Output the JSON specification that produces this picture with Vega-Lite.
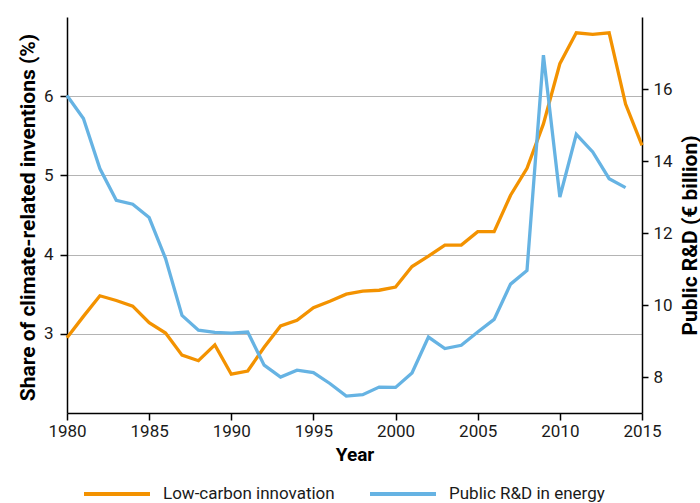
{
  "$schema": "https://vega.github.io/schema/vega-lite/v6.json",
  "width": 575,
  "height": 396,
  "autosize": {"type": "none"},
  "padding": {"left": 67, "top": 17, "right": 58, "bottom": 90},
  "config": {
    "view": {"stroke": null},
    "font": "Roboto",
    "axis": {
      "domainColor": "#000000",
      "domainWidth": 1.5,
      "tickColor": "#000000",
      "tickWidth": 1.5,
      "labelColor": "#1a1a1a",
      "labelFontSize": 17,
      "labelFont": "Roboto",
      "titleFont": "Roboto",
      "titleFontSize": 21,
      "titleFontWeight": "bold",
      "titleColor": "#000000",
      "gridColor": "#b4b4b4",
      "gridWidth": 1,
      "labelFlush": false,
      "labelOverlap": false
    },
    "legend": {"labelFont": "Roboto"}
  },
  "data": {
    "values": [
      {"year": 1980, "series": "Low-carbon innovation", "value": 2.95},
      {"year": 1981, "series": "Low-carbon innovation", "value": 3.22},
      {"year": 1982, "series": "Low-carbon innovation", "value": 3.48},
      {"year": 1983, "series": "Low-carbon innovation", "value": 3.42},
      {"year": 1984, "series": "Low-carbon innovation", "value": 3.35},
      {"year": 1985, "series": "Low-carbon innovation", "value": 3.14},
      {"year": 1986, "series": "Low-carbon innovation", "value": 3.01},
      {"year": 1987, "series": "Low-carbon innovation", "value": 2.73},
      {"year": 1988, "series": "Low-carbon innovation", "value": 2.66},
      {"year": 1989, "series": "Low-carbon innovation", "value": 2.86},
      {"year": 1990, "series": "Low-carbon innovation", "value": 2.49},
      {"year": 1991, "series": "Low-carbon innovation", "value": 2.53},
      {"year": 1992, "series": "Low-carbon innovation", "value": 2.83},
      {"year": 1993, "series": "Low-carbon innovation", "value": 3.10},
      {"year": 1994, "series": "Low-carbon innovation", "value": 3.17},
      {"year": 1995, "series": "Low-carbon innovation", "value": 3.33},
      {"year": 1996, "series": "Low-carbon innovation", "value": 3.41},
      {"year": 1997, "series": "Low-carbon innovation", "value": 3.50},
      {"year": 1998, "series": "Low-carbon innovation", "value": 3.54},
      {"year": 1999, "series": "Low-carbon innovation", "value": 3.55},
      {"year": 2000, "series": "Low-carbon innovation", "value": 3.59},
      {"year": 2001, "series": "Low-carbon innovation", "value": 3.85},
      {"year": 2002, "series": "Low-carbon innovation", "value": 3.98},
      {"year": 2003, "series": "Low-carbon innovation", "value": 4.12},
      {"year": 2004, "series": "Low-carbon innovation", "value": 4.12},
      {"year": 2005, "series": "Low-carbon innovation", "value": 4.29},
      {"year": 2006, "series": "Low-carbon innovation", "value": 4.29},
      {"year": 2007, "series": "Low-carbon innovation", "value": 4.75},
      {"year": 2008, "series": "Low-carbon innovation", "value": 5.09},
      {"year": 2009, "series": "Low-carbon innovation", "value": 5.65},
      {"year": 2010, "series": "Low-carbon innovation", "value": 6.41},
      {"year": 2011, "series": "Low-carbon innovation", "value": 6.80},
      {"year": 2012, "series": "Low-carbon innovation", "value": 6.78},
      {"year": 2013, "series": "Low-carbon innovation", "value": 6.80},
      {"year": 2014, "series": "Low-carbon innovation", "value": 5.90},
      {"year": 2015, "series": "Low-carbon innovation", "value": 5.38},
      {"year": 1980, "series": "Public R&D in energy", "value": 15.82},
      {"year": 1981, "series": "Public R&D in energy", "value": 15.18},
      {"year": 1982, "series": "Public R&D in energy", "value": 13.79},
      {"year": 1983, "series": "Public R&D in energy", "value": 12.91},
      {"year": 1984, "series": "Public R&D in energy", "value": 12.80},
      {"year": 1985, "series": "Public R&D in energy", "value": 12.43},
      {"year": 1986, "series": "Public R&D in energy", "value": 11.29},
      {"year": 1987, "series": "Public R&D in energy", "value": 9.71},
      {"year": 1988, "series": "Public R&D in energy", "value": 9.30},
      {"year": 1989, "series": "Public R&D in energy", "value": 9.24},
      {"year": 1990, "series": "Public R&D in energy", "value": 9.22},
      {"year": 1991, "series": "Public R&D in energy", "value": 9.25},
      {"year": 1992, "series": "Public R&D in energy", "value": 8.33},
      {"year": 1993, "series": "Public R&D in energy", "value": 8.00},
      {"year": 1994, "series": "Public R&D in energy", "value": 8.19},
      {"year": 1995, "series": "Public R&D in energy", "value": 8.12},
      {"year": 1996, "series": "Public R&D in energy", "value": 7.82},
      {"year": 1997, "series": "Public R&D in energy", "value": 7.47},
      {"year": 1998, "series": "Public R&D in energy", "value": 7.51},
      {"year": 1999, "series": "Public R&D in energy", "value": 7.72},
      {"year": 2000, "series": "Public R&D in energy", "value": 7.71},
      {"year": 2001, "series": "Public R&D in energy", "value": 8.11},
      {"year": 2002, "series": "Public R&D in energy", "value": 9.11},
      {"year": 2003, "series": "Public R&D in energy", "value": 8.79},
      {"year": 2004, "series": "Public R&D in energy", "value": 8.88},
      {"year": 2005, "series": "Public R&D in energy", "value": 9.25},
      {"year": 2006, "series": "Public R&D in energy", "value": 9.60},
      {"year": 2007, "series": "Public R&D in energy", "value": 10.58},
      {"year": 2008, "series": "Public R&D in energy", "value": 10.96},
      {"year": 2009, "series": "Public R&D in energy", "value": 16.94},
      {"year": 2010, "series": "Public R&D in energy", "value": 13.00},
      {"year": 2011, "series": "Public R&D in energy", "value": 14.74},
      {"year": 2012, "series": "Public R&D in energy", "value": 14.25},
      {"year": 2013, "series": "Public R&D in energy", "value": 13.51},
      {"year": 2014, "series": "Public R&D in energy", "value": 13.26}
    ]
  },
  "encoding": {
    "x": {
      "field": "year",
      "type": "quantitative",
      "scale": {"domain": [1980, 2015], "nice": false, "zero": false},
      "axis": {
        "values": [1980, 1985, 1990, 1995, 2000, 2005, 2010, 2015],
        "format": "d",
        "title": "Year",
        "titleFontSize": 19,
        "grid": false,
        "tickSize": 7,
        "labelPadding": 3,
        "titlePadding": 6,
        "labelFlush": false,
        "labelOverlap": false
      }
    },
    "color": {
      "field": "series",
      "type": "nominal",
      "scale": {
        "domain": ["Low-carbon innovation", "Public R&D in energy"],
        "range": ["#f39200", "#66b3e3"]
      },
      "legend": {
        "title": null,
        "orient": "none",
        "legendX": 15,
        "legendY": 442,
        "direction": "horizontal",
        "symbolType": "stroke",
        "symbolStrokeWidth": 4,
        "symbolSize": 4356,
        "labelFontSize": 17,
        "labelLimit": 400,
        "labelColor": "#1a1a1a",
        "labelOffset": 11,
        "columnPadding": 27
      }
    }
  },
  "layer": [
    {
      "transform": [{"filter": "datum.series === 'Low-carbon innovation'"}],
      "mark": {"type": "line", "strokeWidth": 3.3},
      "encoding": {
        "y": {
          "field": "value",
          "type": "quantitative",
          "scale": {"domain": [2, 7], "nice": false, "zero": false},
          "axis": {
            "orient": "left",
            "values": [3, 4, 5, 6],
            "grid": true,
            "tickSize": 7,
            "labelPadding": 7,
            "title": "Share of climate-related inventions (%)",
            "titleX": -39,
            "titleY": 200,
            "titleAngle": 270,
            "titleAlign": "center",
            "titleBaseline": "middle"
          }
        }
      }
    },
    {
      "transform": [{"filter": "datum.series === 'Public R&D in energy'"}],
      "mark": {"type": "line", "strokeWidth": 3.3},
      "encoding": {
        "y": {
          "field": "value",
          "type": "quantitative",
          "scale": {"domain": [7, 18], "nice": false, "zero": false},
          "axis": {
            "orient": "right",
            "values": [8, 10, 12, 14, 16],
            "grid": false,
            "tickSize": 6,
            "labelPadding": 5,
            "title": "Public R&D (€ billion)",
            "titleX": 48,
            "titleY": 218,
            "titleAngle": 270,
            "titleAlign": "center",
            "titleBaseline": "middle"
          }
        }
      }
    }
  ],
  "resolve": {"scale": {"y": "independent"}}
}
